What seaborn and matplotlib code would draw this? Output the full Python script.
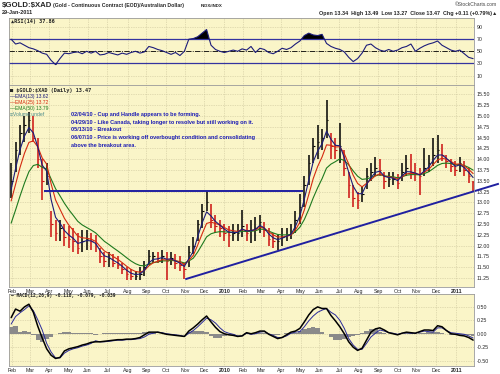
import numpy as np
import pandas as pd
import matplotlib
matplotlib.use("Agg")
import matplotlib.pyplot as plt
import seaborn as sns

# weekly samples (Fridays)
weeks = pd.date_range("2009-01-30", periods=105, freq="W-FRI")

close = [13.5, 14.2, 14.6, 14.8, 14.9, 14.5, 14.0, 13.5, 13.6, 12.5,
         12.3, 12.4, 12.2, 12.15, 12.1, 11.95, 12.1, 12.15, 12.1, 12.0,
         11.75, 11.65, 11.7, 11.6, 11.55, 11.45, 11.35, 11.3, 11.3, 11.35,
         11.5, 11.75, 11.75, 11.7, 11.75, 11.65, 11.7, 11.6, 11.55, 11.45,
         11.85, 12.0, 12.5, 12.8, 13.0, 12.6, 12.45, 12.4, 12.3, 12.25,
         12.3, 12.3, 12.45, 12.3, 12.35, 12.4, 12.55, 12.35, 12.15, 12.1,
         12.1, 12.2, 12.25, 12.3, 12.6, 12.9, 13.4, 13.9, 14.3, 14.4,
         14.5, 14.9, 14.3, 14.2, 14.3, 13.8, 13.4, 13.1, 13.05, 13.2,
         13.6, 13.7, 13.8, 13.75, 13.5, 13.55, 13.55, 13.45, 13.7, 13.8,
         13.7, 13.65, 13.6, 13.8, 13.9, 14.1, 14.2, 14.1, 13.95, 13.85,
         13.75, 13.9, 13.75, 13.6, 13.47]
high = [13.9, 14.4, 14.8, 15.0, 15.1, 15.0, 14.5, 14.0, 13.9, 12.8,
        12.6, 12.6, 12.5, 12.45, 12.4, 12.3, 12.35, 12.35, 12.3, 12.25,
        11.95, 11.85, 11.85, 11.8, 11.75, 11.6, 11.5, 11.45, 11.4, 11.5,
        11.65, 11.9, 11.85, 11.85, 11.9, 11.85, 11.85, 11.8, 11.75, 11.6,
        12.0, 12.2, 12.6, 12.95, 13.26, 12.95, 12.7, 12.6, 12.5, 12.45,
        12.5, 12.5, 12.82, 12.5, 12.6, 12.65, 12.7, 12.55, 12.4, 12.3,
        12.25, 12.4, 12.4, 12.5, 12.8, 13.2, 13.6, 14.1, 14.5, 14.8,
        14.7, 15.37, 14.6, 14.5, 14.83, 14.2, 13.7, 13.4, 13.25, 13.35,
        13.8, 13.9, 14.06, 14.0, 13.7, 13.7, 13.7, 13.65, 13.9, 14.1,
        14.13, 13.9, 13.8, 14.25, 14.1, 14.48, 14.56, 14.35, 14.1, 14.0,
        13.95, 14.06, 13.95, 13.8, 13.5]
low = [13.1, 13.7, 14.1, 14.4, 14.6, 14.4, 13.8, 13.05, 13.4, 12.2,
       12.1, 12.1, 12.0, 11.95, 11.85, 11.8, 11.85, 11.9, 11.9, 11.85,
       11.6, 11.5, 11.5, 11.5, 11.45, 11.35, 11.2, 11.2, 11.2, 11.2,
       11.3, 11.55, 11.6, 11.6, 11.6, 11.2, 11.55, 11.45, 11.4, 11.22,
       11.5, 11.8, 12.1, 12.4, 12.8, 12.4, 12.3, 12.2, 12.1, 11.97,
       12.1, 12.1, 12.2, 12.1, 12.05, 12.1, 12.3, 12.2, 12.0, 11.95,
       11.9, 12.0, 12.1, 12.15, 12.3, 12.5, 12.9, 13.4, 13.9, 14.0,
       14.2, 14.5, 14.0, 14.0, 13.9, 13.6, 13.1, 12.9, 12.85, 13.0,
       13.3, 13.5, 13.6, 13.6, 13.3, 13.35, 13.4, 13.3, 13.5, 13.6,
       13.55, 13.5, 13.17, 13.6, 13.7, 13.85, 13.9, 13.95, 13.8, 13.7,
       13.6, 13.7, 13.6, 13.45, 13.27]
rsi = [70, 62, 64, 60, 56, 54, 51, 47, 45, 35,
       28, 38, 47, 46, 48, 49, 46, 50, 47, 50,
       44, 45, 48, 46, 44, 47, 45, 48, 50, 47,
       49, 58, 56, 53, 51, 48, 45, 48, 43, 50,
       70, 71, 74, 80, 86, 60, 53, 50, 48, 50,
       52, 50, 54, 52, 58, 48, 55, 53, 48, 46,
       50, 55, 53, 56, 62, 67, 76, 80, 77, 76,
       78, 63, 58, 55, 53, 49, 40, 33, 38, 47,
       60, 62, 56, 52, 50, 53, 50, 52, 56, 58,
       62, 50, 55, 59, 62, 64, 67, 60, 56, 52,
       50, 52, 46, 40, 37.86]
macd = [0.30, 0.46, 0.42, 0.50, 0.55, 0.40, 0.14, -0.08, -0.28, -0.40,
        -0.46, -0.44, -0.32, -0.28, -0.26, -0.24, -0.21, -0.19, -0.16, -0.15,
        -0.15, -0.14, -0.13, -0.12, -0.11, -0.11, -0.10, -0.10, -0.09, -0.07,
        -0.02, 0.03, 0.03, 0.03, 0.01, -0.01, -0.02, -0.03, -0.04, -0.05,
        0.05, 0.11, 0.18, 0.26, 0.33, 0.22, 0.12, 0.04, 0.00, -0.02,
        -0.03, -0.05, -0.04, 0.02, 0.00, 0.02, 0.05, 0.05, -0.01, -0.05,
        -0.09, -0.07, -0.02, 0.03, 0.05, 0.10, 0.22, 0.35, 0.45, 0.50,
        0.47, 0.47, 0.34, 0.24, 0.13, 0.00, -0.15, -0.25, -0.31, -0.27,
        -0.12, 0.03, 0.09, 0.11, 0.07, 0.02, 0.00, -0.02, 0.01, 0.03,
        0.02, 0.01, 0.04, 0.07, 0.07, 0.06, 0.15, 0.13, 0.06, 0.00,
        -0.01, -0.03, -0.04, -0.07, -0.118]
macd_hist = [0.12, 0.14, 0.03, 0.05, 0.03, -0.03, -0.12, -0.15, -0.10, -0.06,
             -0.01, 0.01, 0.04, 0.03, 0.02, 0.02, 0.02, 0.02, 0.02, -0.02,
             0.0, 0.01, 0.01, 0.01, 0.01, 0.01, 0.01, 0.01, 0.01, 0.02,
             0.04, 0.04, 0.02, 0.0, -0.01, -0.01, -0.01, -0.01, -0.01, 0.0,
             0.04, 0.05, 0.05, 0.05, 0.04, -0.04, -0.08, -0.07, -0.04, -0.03,
             -0.02, -0.01, 0.0, 0.01, 0.01, 0.02, 0.02, 0.01, -0.01, -0.02,
             -0.02, 0.0, 0.02, 0.02, 0.02, 0.06, 0.09, 0.11, 0.12, 0.10,
             0.03, 0.0, -0.06, -0.11, -0.12, -0.10, -0.06, -0.04, -0.02, 0.02,
             0.06, 0.09, 0.08, 0.04, 0.02, 0.0, -0.01, -0.01, 0.0, 0.01,
             0.01, 0.0, 0.01, 0.02, 0.03, 0.03, 0.04, 0.02, 0.0, -0.02,
             -0.02, -0.03, -0.03, -0.03, -0.039]

# where each average stands at the left edge of the chart
ema_start = {13: 13.05, 25: 12.8, 50: 12.3}
ema_colors = {13: "#1c1c7a", 25: "#d42a10", 50: "#1e7a1e"}

notes = ["02/04/10 - Cup and Handle appears to be forming.",
         "04/29/10 - Like Canada, taking longer to resolve but still working on it.",
         "05/13/10 - Breakout",
         "06/07/10 - Price is working off overbought condition and consolidating",
         "above the breakout area."]

breakout_level = 13.26
breakout_span = ("2009-03-24", "2010-05-06")
trend_pts = [("2009-11-02", 11.22), ("2011-01-28", 13.25)]


def ema(vals, n, seed):
    # daily EMA(n) stepped once per week
    a = 1 - (1 - 2 / (n + 1)) ** 5
    s = pd.Series([seed] + list(vals))
    return s.ewm(alpha=a, adjust=False).mean().iloc[1:].values


start = np.datetime64("2009-01-29")
def bpos(d):
    return np.busday_count(start, np.array(d, dtype="datetime64[D]"))

x = bpos(weeks.values.astype("datetime64[D]"))
close = np.array(close); high = np.array(high); low = np.array(low)
rsi = np.array(rsi, dtype=float); macd = np.array(macd)
hist = np.array(macd_hist)
signal = macd - hist

months = pd.date_range("2009-02-01", "2011-01-01", freq="MS")
firsts = np.busday_offset(months.values.astype("datetime64[D]"), 0, roll="forward")
tick_pos = np.busday_count(start, firsts)
tick_lab = [m.strftime("%Y") if m.month == 1 else m.strftime("%b") for m in months]

sns.set_style("white")
plt.rcParams["font.family"] = ["Liberation Sans", "DejaVu Sans"]

BG = "#FAF5C8"
GRID = "#c9c39a"
fig = plt.figure(figsize=(5, 3.74), dpi=100)
ax_rsi = fig.add_axes([0.018, 0.7727, 0.93, 0.179])
ax_px = fig.add_axes([0.018, 0.2326, 0.93, 0.540])
ax_m = fig.add_axes([0.018, 0.0214, 0.93, 0.1925])

for ax in (ax_rsi, ax_px, ax_m):
    ax.set_facecolor(BG)
    ax.set_xlim(-1.4, 522)
    ax.yaxis.tick_right()
    ax.tick_params(axis="both", length=0, labelsize=3.8, pad=2)
    ax.set_xticks(tick_pos)
    ax.grid(True, color=GRID, linestyle=(0, (1, 1.5)), linewidth=0.5)
    ax.set_axisbelow(True)
    for sp in ax.spines.values():
        sp.set_color("#9a9a9a")
        sp.set_linewidth(0.6)

# RSI
ax_rsi.set_ylim(-5.7, 104.9)
ax_rsi.set_yticks([10, 30, 50, 70, 90])
ax_rsi.set_xticklabels([])
ax_rsi.axhline(70, color="#3434a0", lw=0.9)
ax_rsi.axhline(30, color="#3434a0", lw=0.9)
ax_rsi.axhline(50, color="black", lw=0.6, linestyle="-.")
ax_rsi.fill_between(x, rsi, 70, where=rsi > 70, interpolate=True, color="black", lw=0)
ax_rsi.fill_between(x, rsi, 30, where=rsi < 30, interpolate=True, color="black", lw=0)
sns.lineplot(x=x, y=rsi, ax=ax_rsi, color="#1c1c7a", linewidth=0.8)
ax_rsi.set_xlabel(""); ax_rsi.set_ylabel("")

# price
ax_px.set_ylim(11.04, 15.715)
ax_px.set_yticks(np.arange(11.25, 15.51, 0.25))
ax_px.set_yticklabels([f"{v:.2f}" for v in np.arange(11.25, 15.51, 0.25)])
prev = np.r_[close[0], close[:-1]]
cols = np.where(close >= prev, "black", "#cc1010")
ax_px.vlines(x, low, high, colors=cols, lw=1.1)
ax_px.hlines(close, x, x + 1.8, colors=cols, lw=0.8)
for n in (50, 25, 13):
    sns.lineplot(x=x, y=ema(close, n, ema_start[n]), ax=ax_px,
                 color=ema_colors[n], linewidth=0.8)
ax_px.set_xlabel(""); ax_px.set_ylabel("")
ax_px.hlines(breakout_level, bpos(breakout_span[0]), bpos(breakout_span[1]),
             color="#2020a0", lw=1.4)
(t0, p0), (t1, p1) = trend_pts
x0, x1 = bpos(t0), bpos(t1)
slope = (p1 - p0) / (x1 - x0)
x_end = x1 + 29
ax_px.plot([x0, x_end], [p0, p1 + slope * (x_end - x1)], color="#2020a0",
           lw=1.4, clip_on=False, solid_capstyle="butt")

# MACD
ax_m.set_ylim(-0.60, 0.74)
ax_m.set_yticks([-0.5, -0.25, 0, 0.25, 0.5])
ax_m.set_yticklabels(["-0.50", "-0.25", "0.00", "0.25", "0.50"])
ax_m.bar(x, hist, width=5, color="#8a8a8a", linewidth=0)
sns.lineplot(x=x, y=signal, ax=ax_m, color="#2a2a9a", linewidth=0.7)
sns.lineplot(x=x, y=macd, ax=ax_m, color="black", linewidth=1.1)
ax_m.set_xlabel(""); ax_m.set_ylabel("")

for ax in (ax_px, ax_m):
    ax.set_xticklabels(tick_lab)
    for t, lab in zip(ax.get_xticklabels(), tick_lab):
        if lab.isdigit():
            t.set_fontweight("bold")
    ax.tick_params(axis="x", pad=1.5)

H, W = 374.0, 500.0
def ft(px, py, s, **kw):
    fig.text(px / W, 1 - py / H, s, va="center", **kw)

ft(2, 6, r"\$GOLD:\$XAD", fontsize=5.6, fontweight="bold")
ft(53, 6, "(Gold - Continuous Contract (EOD)/Australian Dollar)", fontsize=3.7, fontweight="bold")
ft(201, 6, "INDX/INDX", fontsize=3.2, fontweight="bold")
ft(2, 13, "29-Jan-2011", fontsize=4, fontweight="bold")
ft(497, 5, "\u00a9StockCharts.com", fontsize=3.6, ha="right", color="#444444")
ft(497, 14, "Open 13.34  High 13.49  Low 13.27  Close 13.47  Chg +0.11 (+0.79%)\u25b2",
   fontsize=3.9, fontweight="bold", ha="right")

ft(11, 21, "\u25b2RSI(14) 37.86", fontsize=3.8, fontweight="bold",
   family=["DejaVu Sans Mono", "DejaVu Sans"])

ft(10, 90.7, "\u25a0 \\$GOLD:\\$XAD (Daily) 13.47", fontsize=3.8, fontweight="bold",
   family=["DejaVu Sans Mono", "DejaVu Sans"])
ft(10, 96.5, "\u2014EMA(13) 13.62", fontsize=3.6, color=ema_colors[13])
ft(10, 102.6, "\u2014EMA(25) 13.72", fontsize=3.6, color=ema_colors[25])
ft(10, 108.5, "\u2014EMA(50) 13.79", fontsize=3.6, color=ema_colors[50])
ft(10, 114, "\u2261Volume undef", fontsize=3.6, color="#4a8a8a")

for i, s in enumerate(notes):
    ft(71, 114.3 + 7.75 * i, s, fontsize=4.0, fontweight="bold", color="#1c1cb4")

ft(11, 296, "\u2014 MACD(12,26,9) -0.118, -0.079, -0.039", fontsize=3.3, fontweight="bold",
   family=["DejaVu Sans Mono", "DejaVu Sans"])

fig.savefig("out.png", dpi=100, facecolor="white")
